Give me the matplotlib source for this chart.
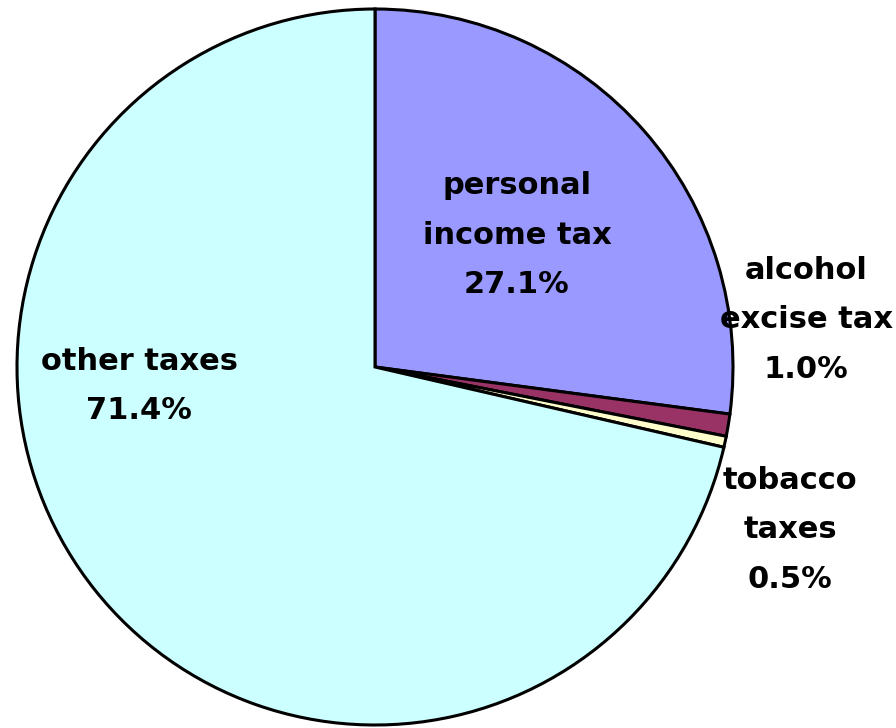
import matplotlib
matplotlib.use('Agg')
import matplotlib.pyplot as plt

categories = ['personal\nincome tax', 'alcohol\nexcise tax', 'tobacco\ntaxes', 'other taxes']
shares = [27.1, 1.0, 0.5, 71.4]
colors = ['#9999FF', '#993366', '#FFFFCC', '#CCFFFF']

W, H = 896, 728
fig = plt.figure(figsize=(W / 100, H / 100), dpi=100)
ax = fig.add_axes([0, 0, 1, 1])

cx, cy, r = 375, H - 367, 358
ax.pie(shares, colors=colors, startangle=90, counterclock=False,
       center=(cx, cy), radius=r, frame=True,
       wedgeprops=dict(edgecolor='black', linewidth=2.2))
ax.set_xlim(0, W)
ax.set_ylim(0, H)
ax.set_aspect('equal')
ax.axis('off')

# label placement (pixel coords, y from top)
label_pos = [(517, 235), (806, 320), (790, 530), (139, 386)]
for name, val, (x, y) in zip(categories, shares, label_pos):
    ax.text(x, H - y, f'{name}\n{val:.1f}%', ha='center', va='center',
            fontsize=22, fontweight='bold', linespacing=1.9,
            family='DejaVu Sans')

fig.savefig('out.png', dpi=100)
